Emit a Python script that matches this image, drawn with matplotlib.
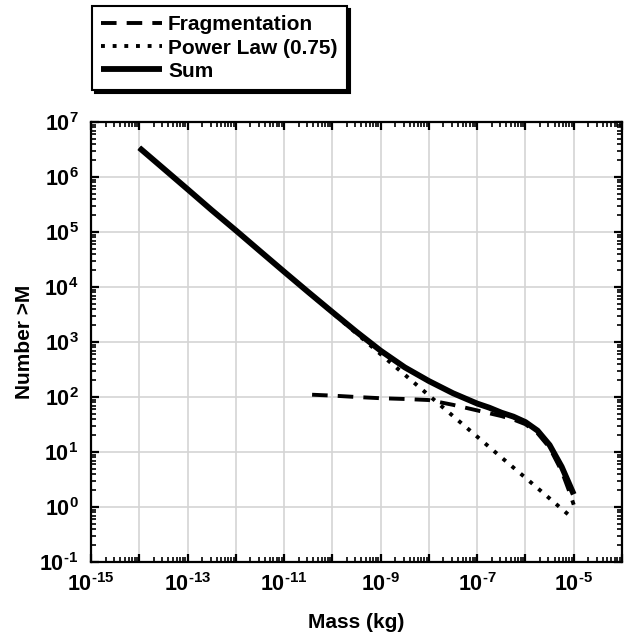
import numpy as np
import matplotlib
matplotlib.use("Agg")
import matplotlib.pyplot as plt
from matplotlib.ticker import LogLocator, FixedLocator, NullFormatter

plt.rcParams['font.family'] = ['Liberation Sans', 'DejaVu Sans']
plt.rcParams['font.weight'] = 'bold'
plt.rcParams['mathtext.fontset'] = 'custom'
plt.rcParams['mathtext.rm'] = 'Liberation Sans:bold'
plt.rcParams['mathtext.bf'] = 'Liberation Sans:bold'
plt.rcParams['mathtext.it'] = 'Liberation Sans:bold'

# ---- data ----
power_mass = [1e-14, 10**-13.5, 1e-13, 10**-12.5, 1e-12, 10**-11.5, 1e-11, 10**-10.5,
              1e-10, 10**-9.5, 1e-9, 10**-8.5, 1e-8, 10**-7.5, 1e-7, 10**-6.5,
              1e-6, 10**-5.5, 1e-5]
power_n = [3.4e6, 1.43e6, 6.0e5, 2.5e5, 1.07e5, 4.5e4, 1.9e4, 8.0e3,
           3.4e3, 1.43e3, 600, 254, 107, 45, 19, 8.0,
           3.4, 1.43, 0.60]

frag_mass = [10**-10.42, 1e-10, 10**-9.5, 1e-9, 10**-8.5, 1e-8, 10**-7.5, 1e-7,
             10**-6.5, 10**-6.25, 1e-6, 10**-5.75, 10**-5.5, 10**-5.25, 10**-5.1, 1e-5]
frag_n = [110, 106, 100, 95, 92, 88, 72, 57,
          45, 39, 32, 22, 12, 4.5, 2.0, 1.1]

sum_mass = [1e-14, 10**-13.5, 1e-13, 10**-12.5, 1e-12, 10**-11.5, 1e-11, 10**-10.5,
            1e-10, 10**-9.5, 1e-9, 10**-8.5, 1e-8, 10**-7.5, 1e-7, 10**-6.75,
            10**-6.5, 10**-6.25, 1e-6, 10**-5.75, 10**-5.5, 10**-5.25, 10**-5.1, 1e-5]
sum_n = [3.4e6, 1.43e6, 6.0e5, 2.5e5, 1.07e5, 4.5e4, 1.9e4, 8.1e3,
         3.5e3, 1.53e3, 695, 346, 195, 117, 76, 64,
         52, 44, 35, 24.5, 13.4, 5.4, 2.7, 1.7]

x_tick_exps = [-15, -13, -11, -9, -7, -5]
y_tick_exps = [-1, 0, 1, 2, 3, 4, 5, 6, 7]


def exp_label(e):
    s = str(e).replace('-', r'\text{-}')
    return r'$\mathbf{10^{%s}}$' % s


fig = plt.figure(figsize=(6.28, 6.40), dpi=100)
ax = fig.add_axes([91/628, 1-562/640, (622-91)/628, (562-122)/640])

l_frag, = ax.plot(frag_mass, frag_n, color='black', lw=2.8, linestyle=(0, (4.0, 2.6)),
                  label='Fragmentation', zorder=3)
l_pow, = ax.plot(power_mass, power_n, color='black', lw=2.8, linestyle=(0, (1, 2.0)),
                 label='Power Law (0.75)', zorder=3)
l_sum, = ax.plot(sum_mass, sum_n, color='black', lw=4.2, solid_capstyle='butt',
                 label='Sum', zorder=4)

ax.set_xscale('log')
ax.set_yscale('log')
ax.set_xlim(1e-15, 1e-4)
ax.set_ylim(1e-1, 1e7)

major_x = [10.0**e for e in range(-15, -3)]
ax.xaxis.set_major_locator(FixedLocator(major_x))
ax.xaxis.set_minor_locator(LogLocator(base=10, subs=np.arange(2, 10), numticks=50))
ax.yaxis.set_major_locator(FixedLocator([10.0**e for e in y_tick_exps]))
ax.yaxis.set_minor_locator(LogLocator(base=10, subs=np.arange(2, 10), numticks=50))
ax.xaxis.set_minor_formatter(NullFormatter())
ax.yaxis.set_minor_formatter(NullFormatter())

ax.set_xticks(major_x)
ax.set_xticklabels([exp_label(e) if e in x_tick_exps else '' for e in range(-15, -3)])
ax.set_yticks([10.0**e for e in y_tick_exps])
ax.set_yticklabels([exp_label(e) for e in y_tick_exps])

ax.tick_params(which='major', direction='in', length=6, width=1.6, top=True, right=True,
               labelsize=15.5, pad=8)
ax.tick_params(which='minor', direction='in', length=3.5, width=1.2, top=True, right=True)
ax.tick_params(axis='y', which='major', pad=9)

for s in ax.spines.values():
    s.set_linewidth(1.6)

ax.grid(True, which='major', color='#d4d4d4', lw=1.2)
ax.set_axisbelow(True)

ax.set_xlabel('Mass (kg)', fontsize=15, fontweight='bold', labelpad=12)
ax.set_ylabel('Number >M', fontsize=15, fontweight='bold', labelpad=4)

leg = fig.legend(handles=[l_frag, l_pow, l_sum], loc='upper left',
                 bbox_to_anchor=(92/628, 1-6/640), fontsize=15,
                 frameon=True, fancybox=False, shadow={'color': 'black', 'alpha': 1},
                 handlelength=2.9, handletextpad=0.3, labelspacing=0.2,
                 borderpad=0.45, borderaxespad=0)
leg.get_frame().set_edgecolor('black')
leg.get_frame().set_linewidth(1.5)
for t in leg.get_texts():
    t.set_fontweight('bold')

fig.savefig('out.png', dpi=100)
